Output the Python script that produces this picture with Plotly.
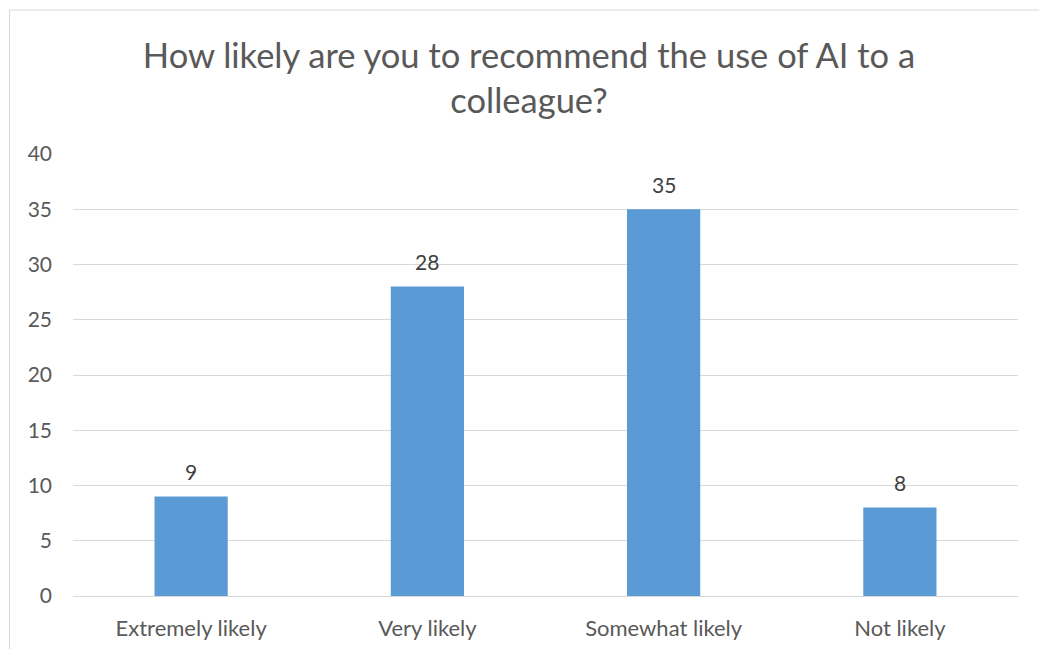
import plotly.graph_objects as go

categories = ["Extremely likely", "Very likely", "Somewhat likely", "Not likely"]
values = [9, 28, 35, 8]
title_text = "How likely are you to recommend the use of AI to a<br>colleague?"
y_ticks = [0, 5, 10, 15, 20, 25, 30, 35, 40]

W, H = 1039, 649
L, R, T, B = 73, 21, 154, 53
pw, ph = W - L - R, H - T - B

def px_to_paper_x(px):
    return (px - L) / pw

def px_to_paper_y(py):
    return (H - B - py) / ph

FONT = "Lato"
fig = go.Figure(go.Bar(
    x=categories, y=values,
    marker=dict(color="#5B9BD5", line=dict(width=0)),
    hoverinfo="x+y",
))

for c, v in zip(categories, values):
    fig.add_annotation(x=c, y=v, text=str(v), showarrow=False, yanchor="middle", yshift=25,
                       font=dict(family=FONT, size=21, color="#404040"))

fig.update_layout(
    width=W, height=H,
    margin=dict(l=L, r=R, t=T, b=B, autoexpand=False),
    paper_bgcolor="white", plot_bgcolor="white",
    bargap=0.69,
    showlegend=False,
    title=dict(text=title_text, x=529 / W, xanchor="center", y=1 - 68 / H, yanchor="middle",
               font=dict(family=FONT, size=34.5, color="#595959")),
    font=dict(family=FONT, color="#595959"),
    xaxis=dict(showgrid=False, showline=False, ticks="", zeroline=False, automargin=False,
               tickfont=dict(family=FONT, size=22, color="#595959"), ticklabelstandoff=17),
    yaxis=dict(range=[0, 40], tickvals=y_ticks, showgrid=True, gridcolor="#D9D9D9", gridwidth=1,
               zeroline=True, zerolinecolor="#D9D9D9", zerolinewidth=1, showline=False, ticks="",
               automargin=False,
               tickfont=dict(family=FONT, size=21, color="#595959"), ticklabelstandoff=20),
    shapes=[dict(type="rect", xref="paper", yref="paper",
                 x0=px_to_paper_x(9.5), x1=px_to_paper_x(1060),
                 y0=px_to_paper_y(670), y1=px_to_paper_y(10),
                 line=dict(color="#D9D9D9", width=1), fillcolor="rgba(0,0,0,0)", layer="below")],
)

fig.write_html("out.html")
